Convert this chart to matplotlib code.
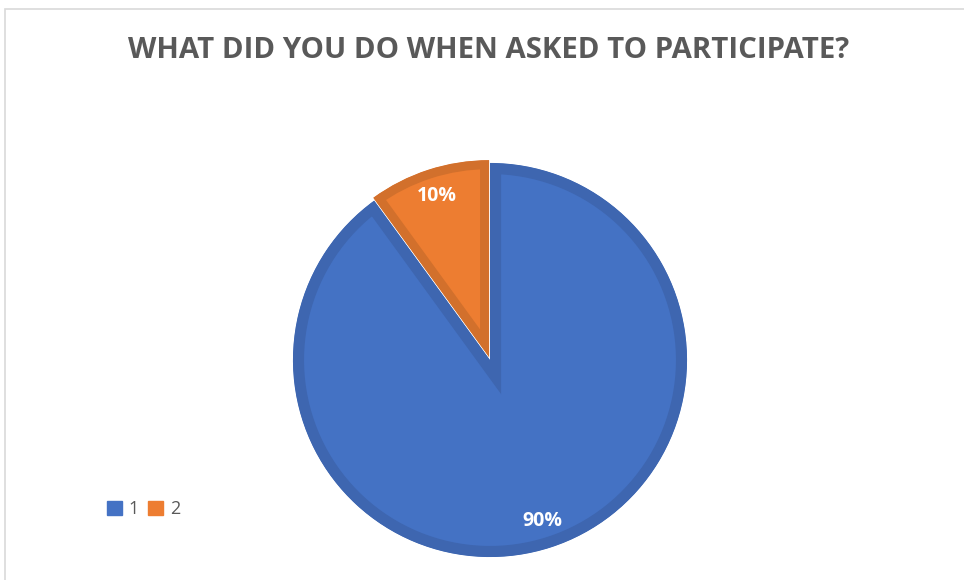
import matplotlib
matplotlib.use("Agg")
import matplotlib.pyplot as plt
from matplotlib.patches import Rectangle, Patch

title = "WHAT DID YOU DO WHEN ASKED TO PARTICIPATE?"
labels = ["1", "2"]
values = [90, 10]
colors = ["#4472C4", "#ED7D31"]
edges = ["#3E66B0", "#D2702C"]
explode = [0.0, 0.015]

plt.rcParams['font.family'] = ['Open Sans', 'DejaVu Sans']

fig = plt.figure(figsize=(9.64, 5.8), dpi=100)
fig.patch.set_facecolor("white")

# chart area border (right/bottom run off the image)
fig.patches.append(Rectangle((5 / 964, -0.1), 1.1, 1.1 - 9 / 580,
                             transform=fig.transFigure, fill=False,
                             edgecolor="#D9D9D9", linewidth=1.2))

ax = fig.add_axes([290 / 964, 20 / 580, 400 / 964, 400 / 580])
wedges, texts, autotexts = ax.pie(values, colors=colors, startangle=90,
                                  counterclock=False, explode=explode,
                                  autopct="%d%%", pctdistance=0.86,
                                  textprops=dict(color="white", fontsize=14,
                                                 fontweight="bold"))
# inner border like Excel: double width line clipped to the wedge
for w, ec, lw in zip(wedges, edges, [16, 13]):
    w.set_edgecolor(ec)
    w.set_linewidth(lw)
    w.set_joinstyle("miter")
    w.set_clip_on(True)
    w.set_clip_path(w)
ax.set_xlim(-1.015, 1.015)
ax.set_ylim(-1.015, 1.015)
ax.set_aspect("equal")
ax.axis("off")

fig.text(489 / 964, 1 - 51 / 580, title, ha="center", va="center",
         fontsize=21.2, fontweight="bold", color="#595959")

handles = [Patch(facecolor=c, edgecolor=c) for c in colors]
fig.legend(handles, labels, loc="center left", bbox_to_anchor=(100 / 964, 71 / 580),
           ncol=2, frameon=False, fontsize=13, labelcolor="#595959",
           handlelength=0.8, handleheight=0.8, handletextpad=0.4,
           columnspacing=0.5, borderaxespad=0)

fig.savefig("out.png", dpi=100)
